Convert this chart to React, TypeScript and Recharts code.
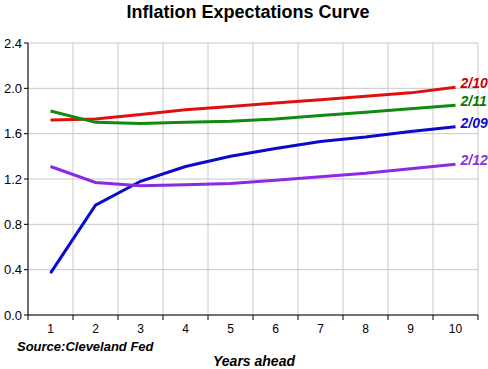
import { LineChart, Line, XAxis, YAxis, CartesianGrid, LabelList } from 'recharts'

// years ahead (category positions)
const years = [1, 2, 3, 4, 5, 6, 7, 8, 9, 10]
const s0210 = [1.72, 1.73, 1.77, 1.81, 1.84, 1.87, 1.9, 1.93, 1.96, 2.01]
const s0211 = [1.8, 1.7, 1.69, 1.7, 1.71, 1.73, 1.76, 1.79, 1.82, 1.85]
const s0209 = [0.37, 0.97, 1.18, 1.31, 1.4, 1.47, 1.53, 1.57, 1.62, 1.66]
const s0212 = [1.31, 1.17, 1.14, 1.15, 1.16, 1.19, 1.22, 1.25, 1.29, 1.33]
const yTicks = [0, 0.4, 0.8, 1.2, 1.6, 2.0, 2.4]
// band edges for grid lines and tick marks
const xEdges = [0.5, 1.5, 2.5, 3.5, 4.5, 5.5, 6.5, 7.5, 8.5, 9.5, 10.5]

const data = years.map((y, i) => ({
  year: y,
  a: s0210[i],
  b: s0211[i],
  c: s0209[i],
  d: s0212[i],
}))

const W = 488
const H = 369
const margin = { top: 43, right: 10, left: 0, bottom: 34 }
const half = (W - 28 - margin.right) / years.length / 2
const font = "Arial, 'Liberation Sans', sans-serif"

const XTick = (props: any) => {
  const { x, y, payload } = props
  if (payload.value > 10) return null
  return (
    <text x={x + half} y={y} dy="0.71em" textAnchor="middle" fontSize={12} fill="#000" fontFamily={font}>
      {payload.value + 0.5}
    </text>
  )
}

const endLabel = (text: string, color: string) => (props: any) => {
  const { x, y, index } = props
  if (index !== years.length - 1) return null
  return (
    <text x={x + 5} y={y} dy={1} fontSize={14} fontWeight="bold" fontStyle="italic" fill={color} fontFamily={font}>
      {text}
    </text>
  )
}

export default function App() {
  return (
    <div style={{ position: 'absolute', left: 0, top: 0, width: W, height: H, background: '#fff', fontFamily: font }}>
      <div style={{ position: 'absolute', left: 0, top: 2, width: W, paddingLeft: 8, boxSizing: 'border-box', textAlign: 'center', fontSize: 18, fontWeight: 'bold' }}>
        Inflation Expectations Curve
      </div>
      <LineChart width={W} height={H} data={data} margin={margin}>
        <CartesianGrid stroke="#c8c8c8" />
        <XAxis
          dataKey="year"
          type="number"
          domain={[0.5, 10.5]}
          ticks={xEdges}
          interval={0}
          stroke="#000"
          tickSize={5}
          tickMargin={4}
          tick={<XTick />}
          height={20}
        />
        <YAxis
          domain={[0, 2.4]}
          ticks={yTicks}
          interval={0}
          width={28}
          stroke="#000"
          tickSize={4}
          tickMargin={2}
          tick={{ fontSize: 13, fill: '#000', fontFamily: font }}
          tickFormatter={(v: number) => v.toFixed(1)}
        />
        <Line type="linear" dataKey="a" stroke="#e01010" strokeWidth={3} dot={false} isAnimationActive={false}>
          <LabelList dataKey="a" content={endLabel('2/10', '#cc0000')} />
        </Line>
        <Line type="linear" dataKey="b" stroke="#108a10" strokeWidth={3} dot={false} isAnimationActive={false}>
          <LabelList dataKey="b" content={endLabel('2/11', '#007a00')} />
        </Line>
        <Line type="linear" dataKey="c" stroke="#0a0acc" strokeWidth={3} dot={false} isAnimationActive={false}>
          <LabelList dataKey="c" content={endLabel('2/09', '#0a0acc')} />
        </Line>
        <Line type="linear" dataKey="d" stroke="#8a2be2" strokeWidth={3} dot={false} isAnimationActive={false}>
          <LabelList dataKey="d" content={endLabel('2/12', '#8833dd')} />
        </Line>
      </LineChart>
      <div style={{ position: 'absolute', left: 17, top: 339, fontSize: 13, fontWeight: 'bold', fontStyle: 'italic' }}>
        Source:Cleveland Fed
      </div>
      <div style={{ position: 'absolute', left: 0, top: 353, width: W, paddingLeft: 20, boxSizing: 'border-box', textAlign: 'center', fontSize: 14, fontWeight: 'bold', fontStyle: 'italic' }}>
        Years ahead
      </div>
    </div>
  )
}
